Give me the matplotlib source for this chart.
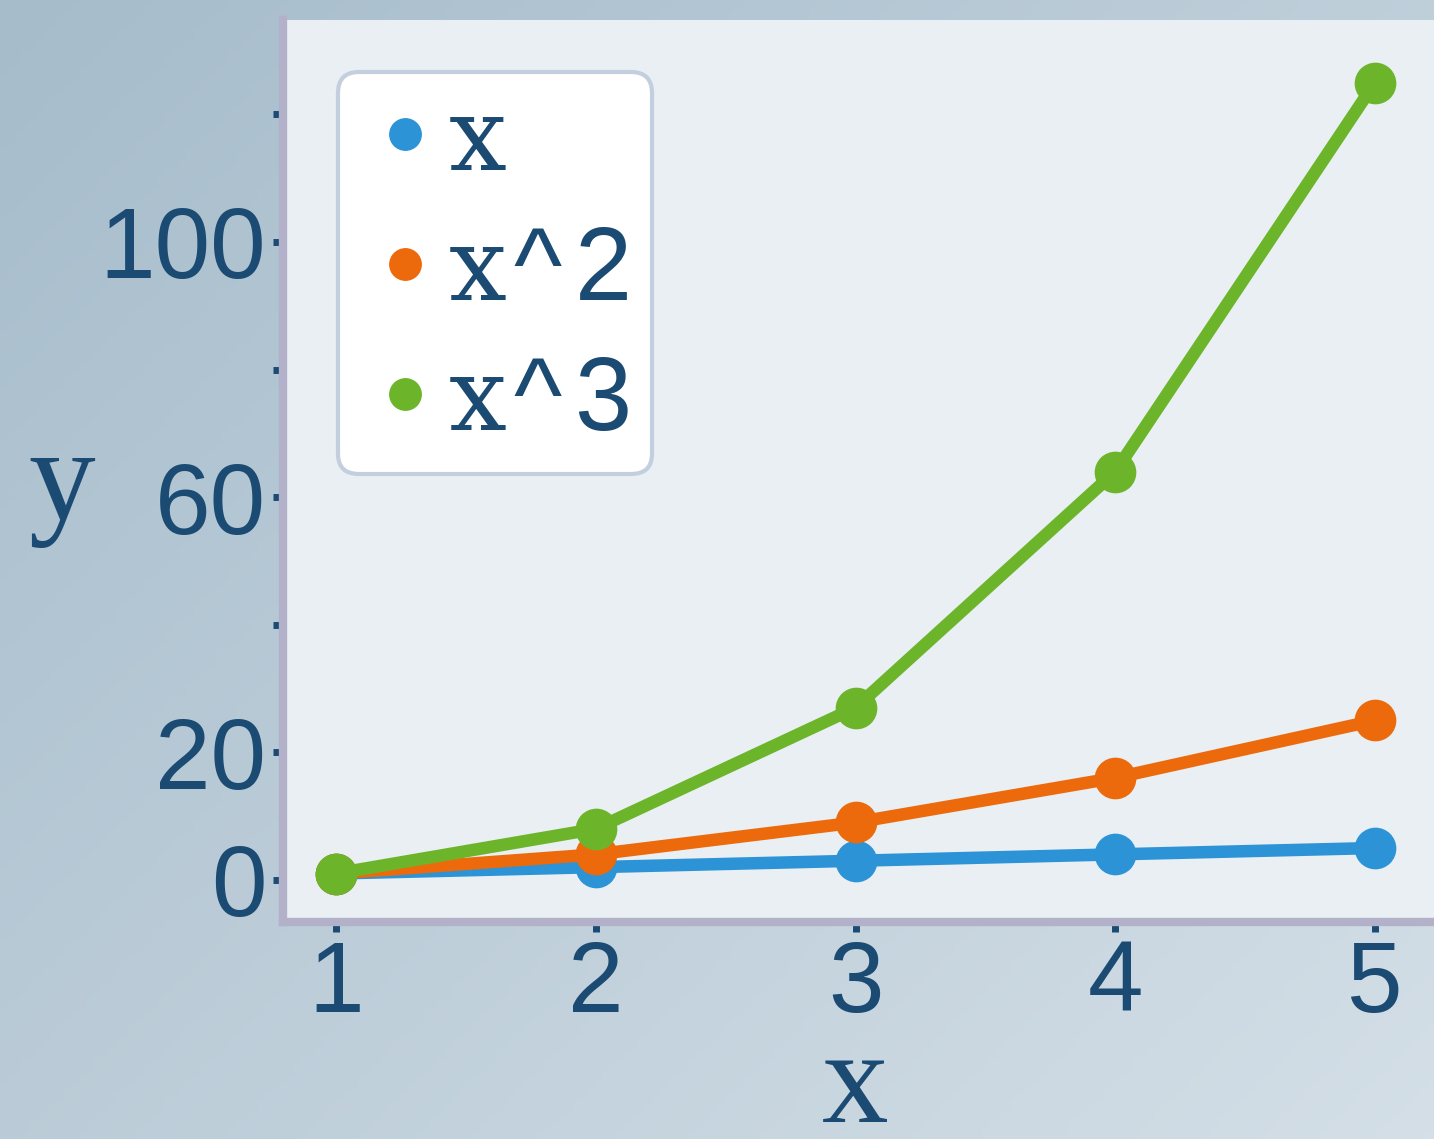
import numpy as np
import matplotlib
matplotlib.use("Agg")
import matplotlib.pyplot as plt

# ---- data ----
xs = [1, 2, 3, 4, 5]
y_lin = [1, 2, 3, 4, 5]
y_sq = [1, 4, 9, 16, 25]
y_cu = [1, 8, 27, 64, 125]
series_labels = [r"$\mathrm{x}\hspace{0.08}$^$\hspace{0.12}$2" if i == 1 else
                 (r"$\mathrm{x}\hspace{0.08}$^$\hspace{0.12}$3" if i == 2 else r"$\mathrm{x}$")
                 for i in range(3)]
colors = ["#2b93d6", "#ec6a0c", "#6cb52b"]
yticks_major = [0, 20, 60, 100]
yticks_minor = [40, 80, 120]

plt.rcParams["mathtext.fontset"] = "custom"
plt.rcParams["mathtext.rm"] = "DejaVu Serif"

W, H = 1434, 1139
fig = plt.figure(figsize=(W / 100, H / 100), dpi=100)

# background gradient
bg = fig.add_axes([0, 0, 1, 1], zorder=-10)
gx = np.linspace(0, 1, 200)
gy = np.linspace(0, 1, 200)
GX, GY = np.meshgrid(gx, gy)
t = np.clip(0.55 * GX + 0.45 * GY, 0, 1)
c0 = np.array([166, 188, 203]) / 255.0
c1 = np.array([212, 223, 231]) / 255.0
img = c0[None, None, :] * (1 - t[..., None]) + c1[None, None, :] * t[..., None]
bg.imshow(img, aspect="auto", extent=[0, 1, 0, 1], origin="upper")
bg.set_axis_off()

ax = fig.add_axes([283 / W, (H - 922) / H, (W - 283) / W, (922 - 20) / H])
ax.set_facecolor("#e9eff3")

navy = "#1b4a72"
for yv, lab, col in zip([y_lin, y_sq, y_cu], series_labels, colors):
    ax.plot(xs, yv, color=col, lw=9, marker="o", ms=29, label=lab,
            solid_capstyle="round", solid_joinstyle="round", clip_on=False)

ax.set_xlim(0.796, 5.227)
ax.set_ylim(-6.6, 134.8)
ax.set_xticks(xs)
ax.set_yticks(yticks_major)
ax.set_yticks(yticks_minor, minor=True)

for s in ["top", "right"]:
    ax.spines[s].set_visible(False)
for s in ["left", "bottom"]:
    ax.spines[s].set_color("#b3b1c9")
    ax.spines[s].set_linewidth(6)

ax.tick_params(axis="both", which="both", direction="out", length=7, width=5,
               color=navy, labelcolor=navy, labelsize=72, pad=5)
for lbl in ax.get_xticklabels() + ax.get_yticklabels():
    lbl.set_family("Liberation Sans")

ax.set_ylabel("y", family="Liberation Serif", fontsize=96, color=navy, rotation=0,
              va="center", ha="center")
ax.yaxis.set_label_coords(-0.192, 0.482)
ax.set_xlabel("x", family="Liberation Serif", fontsize=96, color=navy,
              va="center", ha="center")
ax.xaxis.set_label_coords(0.497, -0.186)

leg = ax.legend(loc="upper left", bbox_to_anchor=(0.048, 0.942), borderaxespad=0,
                handlelength=0.85, handletextpad=0.0, labelspacing=0.32,
                markerscale=0.78, borderpad=0.22, fancybox=True,
                prop={"family": "Liberation Sans", "size": 74},
                labelcolor=navy, framealpha=1.0, edgecolor="#c3cfdf")
for h in leg.legend_handles:
    h.set_linestyle("none")
leg.get_frame().set_linewidth(3)

fig.savefig("out.png", dpi=100)
